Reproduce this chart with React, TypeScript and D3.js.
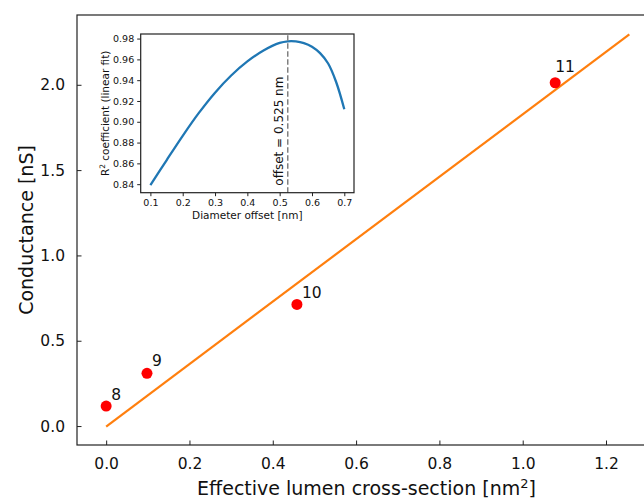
import React, { useRef, useEffect } from 'react';
import * as d3 from 'd3';

// main panel data
const poreIds = ['8', '9', '10', '11'];
const areaValues = [0.0, 0.098, 0.458, 1.078];
const conductanceValues = [0.117, 0.309, 0.713, 2.012];
const fitX = [0, 1.256];
const fitY = [-0.003, 2.296];
const xTicks = [0, 0.2, 0.4, 0.6, 0.8, 1.0, 1.2];
const yTicks = [0, 0.5, 1.0, 1.5, 2.0];
// label nudges in px (dx, dy) for the pore numbers
const labelNudge = [[5, -6], [5, -7], [5, -6], [0, -11]];

// inset data
const offsetValues = [0.1, 0.15, 0.2, 0.25, 0.3, 0.35, 0.4, 0.45, 0.5, 0.525, 0.55, 0.575, 0.6, 0.625, 0.65, 0.675, 0.7];
const r2Values = [0.839, 0.863, 0.8865, 0.9085, 0.928, 0.9445, 0.958, 0.9685, 0.9758, 0.9774, 0.9773, 0.9757, 0.9722, 0.966, 0.956, 0.938, 0.912];
const insetXTicks = [0.1, 0.2, 0.3, 0.4, 0.5, 0.6, 0.7];
const insetYTicks = [0.84, 0.86, 0.88, 0.90, 0.92, 0.94, 0.96, 0.98];
const bestOffset = 0.525;

const W = 644;
const H = 502;
const FONT = 'DejaVu Sans, sans-serif';

const App = () => {
  const xAxisRef = useRef(null);
  const yAxisRef = useRef(null);
  const ixAxisRef = useRef(null);
  const iyAxisRef = useRef(null);

  const x = d3.scaleLinear().domain([-0.07, 1.32]).range([77, 656]);
  const y = d3.scaleLinear().domain([-0.111, 2.409]).range([445, 15]);

  const ix = d3.scaleLinear().domain([0.07, 0.73]).range([140.7, 354]);
  const iy = d3.scaleLinear().domain([0.8318, 0.9844]).range([192.7, 34]);

  useEffect(() => {
    const style = (sel, size) => {
      sel.select('.domain').remove();
      sel.selectAll('line').attr('stroke', '#222').attr('stroke-width', 1);
      sel.selectAll('text').attr('fill', '#111').style('font-family', FONT).style('font-size', size + 'px');
    };
    const gx = d3.select(xAxisRef.current);
    gx.call(d3.axisBottom(x).tickValues(xTicks).tickFormat(d3.format('.1f')).tickSizeInner(-4.5).tickPadding(13));
    style(gx, 15.5);
    const gy = d3.select(yAxisRef.current);
    gy.call(d3.axisLeft(y).tickValues(yTicks).tickFormat(d3.format('.1f')).tickSizeInner(-4.5).tickPadding(12));
    style(gy, 15.5);

    const igx = d3.select(ixAxisRef.current);
    igx.call(d3.axisBottom(ix).tickValues(insetXTicks).tickFormat(d3.format('.1f')).tickSizeInner(3.5).tickPadding(3));
    style(igx, 9.5);
    const igy = d3.select(iyAxisRef.current);
    igy.call(d3.axisLeft(iy).tickValues(insetYTicks).tickFormat(d3.format('.2f')).tickSizeInner(3.5).tickPadding(3));
    style(igy, 9.5);
  }, []);

  const fitLine = d3.line<number>()
    .x((d, i) => x(fitX[i]))
    .y((d, i) => y(fitY[i]));

  const r2Line = d3.line<number>()
    .x((d) => ix(d))
    .y((d, i) => iy(r2Values[i]))
    .curve(d3.curveCatmullRom.alpha(0.5));

  const [x0, x1] = x.range();
  const [y0, y1] = y.range();

  return (
    <svg width={W} height={H} style={{ position: 'absolute', left: 0, top: 0, background: '#fff' }}
      fontFamily={FONT}>
      <rect x={0} y={0} width={W} height={H} fill="#fff" />

      {/* main panel */}
      <path d={fitLine(fitX) || ''} fill="none" stroke="#ff7f0e" strokeWidth={2.2} />
      {areaValues.map((a, i) => (
        <circle key={poreIds[i]} cx={x(a)} cy={y(conductanceValues[i])} r={5.5} fill="#ff0000" />
      ))}
      {areaValues.map((a, i) => (
        <text key={'lbl-' + poreIds[i]} x={x(a) + labelNudge[i][0]} y={y(conductanceValues[i]) + labelNudge[i][1]}
          fontSize={15.5} fill="#111">{poreIds[i]}</text>
      ))}
      <g ref={xAxisRef} transform={`translate(0,${y0})`} />
      <g ref={yAxisRef} transform={`translate(${x0},0)`} />
      <rect x={x0} y={y1} width={x1 - x0} height={y0 - y1} fill="none" stroke="#222" strokeWidth={1.2} />

      <text x={(x0 + x1) / 2} y={495} textAnchor="middle" fontSize={19} fill="#111">
        Effective lumen cross-section [nm<tspan dy={-7} fontSize={13}>2</tspan><tspan dy={7}>]</tspan>
      </text>
      <text transform={`translate(33,${(y0 + y1) / 2}) rotate(-90)`} textAnchor="middle" fontSize={19} fill="#111">
        Conductance [nS]
      </text>

      {/* inset */}
      <rect x={ix.range()[0]} y={iy.range()[1]} width={ix.range()[1] - ix.range()[0]}
        height={iy.range()[0] - iy.range()[1]} fill="#fff" />
      <path d={r2Line(offsetValues) || ''} fill="none" stroke="#1f77b4" strokeWidth={2.3} />
      <line x1={ix(bestOffset)} x2={ix(bestOffset)} y1={iy.range()[0]} y2={iy.range()[1]}
        stroke="#808080" strokeWidth={1.5} strokeDasharray="5.5,2.5" />
      <text transform={`translate(${ix(bestOffset) - 5},${iy.range()[0] - 7}) rotate(-90)`} fontSize={12} fill="#111">
        offset = 0.525 nm
      </text>
      <g ref={ixAxisRef} transform={`translate(0,${iy.range()[0]})`} />
      <g ref={iyAxisRef} transform={`translate(${ix.range()[0]},0)`} />
      <rect x={ix.range()[0]} y={iy.range()[1]} width={ix.range()[1] - ix.range()[0]}
        height={iy.range()[0] - iy.range()[1]} fill="none" stroke="#222" strokeWidth={1.2} />
      <text x={(ix.range()[0] + ix.range()[1]) / 2} y={219} textAnchor="middle" fontSize={10.5} fill="#111">
        Diameter offset [nm]
      </text>
      <text transform={`translate(109,${(iy.range()[0] + iy.range()[1]) / 2}) rotate(-90)`} textAnchor="middle"
        fontSize={10.5} fill="#111">
        R<tspan dy={-4} fontSize={7.5}>2</tspan><tspan dy={4}> coefficient (linear fit)</tspan>
      </text>
    </svg>
  );
};

export default App;
